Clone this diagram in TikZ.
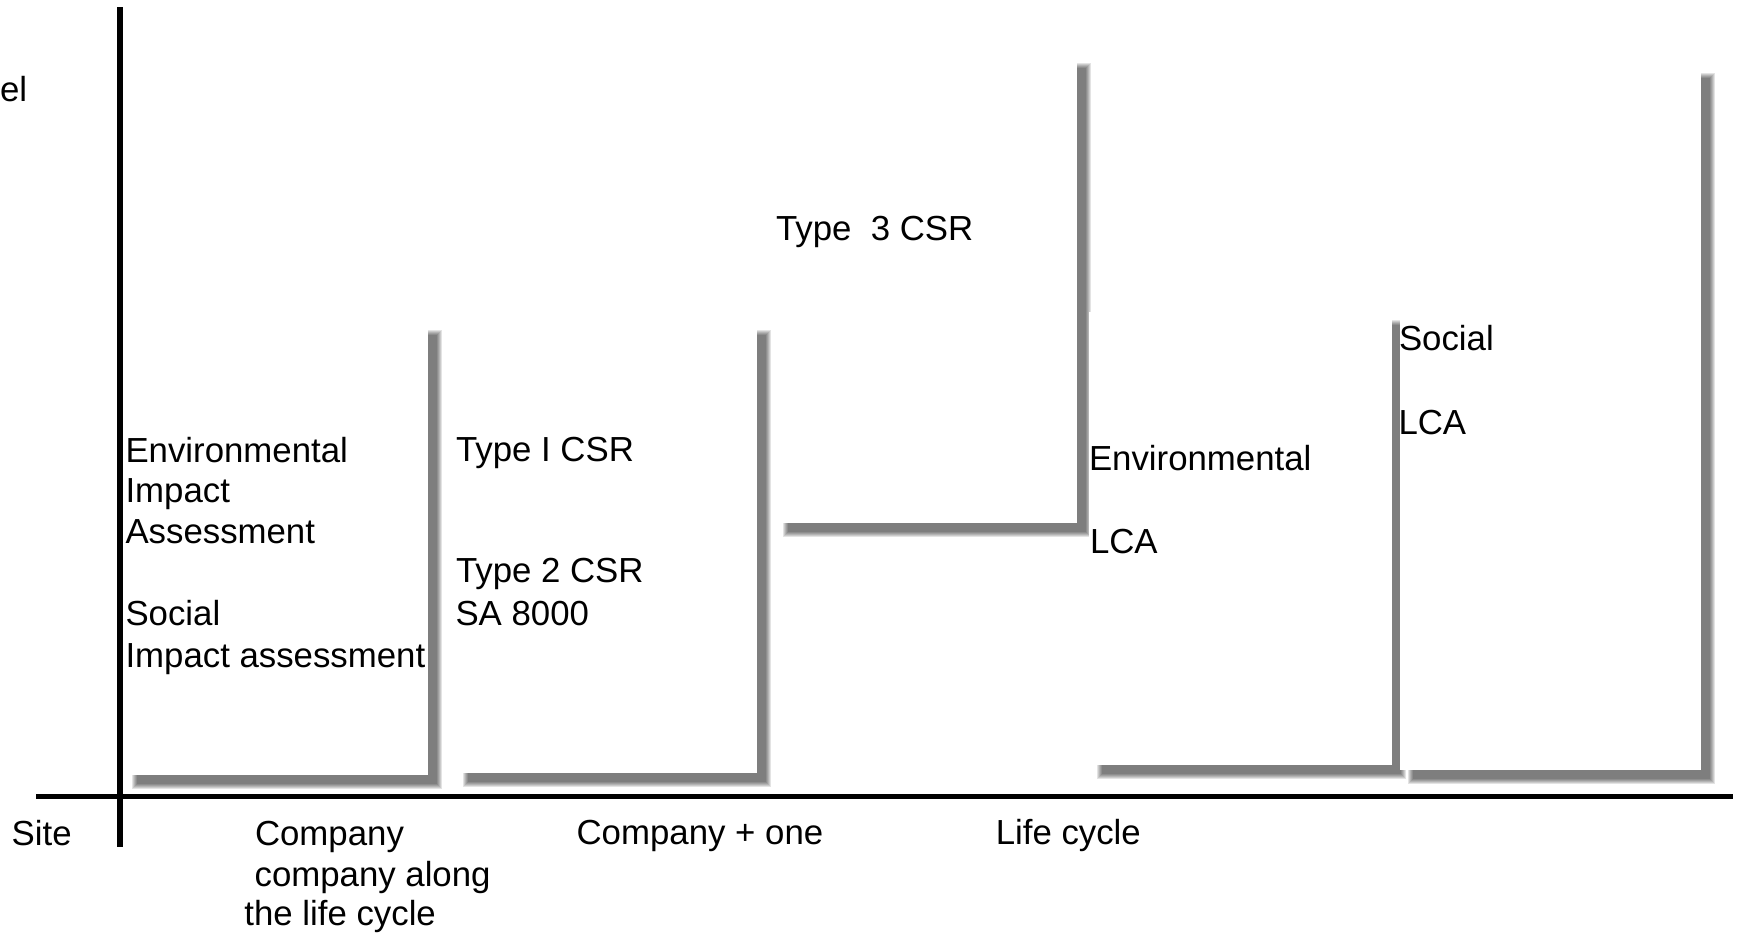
\documentclass[tikz,border=0pt]{standalone}
\usepackage{fontspec}
\setmainfont{Liberation Sans}
\begin{document}
\begin{tikzpicture}[x=0.5pt,y=-0.5pt]
\tikzset{
  shadowlayer/.style={fill=black, fill opacity=0.11},
  panelfill/.style={fill=white},
  axisline/.style={line width=2.65pt, line cap=butt, draw=black},
  lbl/.style={anchor=base west, inner sep=0pt, outer sep=0pt,
              font=\fontsize{17.4}{20.6}\selectfont},
}
% white panel with a soft drop shadow (corners in px: x1 y1 x2 y2)
\newcommand\shadowpanel[4]{%
  \foreach \e in {0,...,5}{%
    \fill[shadowlayer] (#1+8+\e,#2+8+\e) rectangle (#3+14-\e,#4+14-\e);
  }%
  \fill[panelfill] (#1,#2) rectangle (#3,#4);
}
\useasboundingbox (0,0) rectangle (1741,934);

% panels, left to right
\shadowpanel{124}{322}{428}{775}
\shadowpanel{455}{322}{757}{773}
\shadowpanel{775}{55}{1077}{523}
\shadowpanel{1089}{312}{1392}{765}
\shadowpanel{1400}{65}{1701}{770}

% axes
\coordinate (ytop) at (120,7);
\coordinate (ybot) at (120,847);
\coordinate (xleft) at (36,796.5);
\coordinate (xright) at (1733,796.5);
\draw[axisline] (ytop) -- (ybot);
\draw[axisline] (xleft) -- (xright);

% axis title
\node[lbl] (ytitle) at (0,101.7) {el};

% site level
\node[lbl] (eia1) at (125.5,462) {Environmental};
\node[lbl] (eia2) at (125.5,502) {Impact};
\node[lbl] (eia3) at (125.5,543) {Assessment};
\node[lbl] (sia1) at (125.5,625) {Social};
\node[lbl] (sia2) at (125.5,667) {Impact assessment};

% company level
\node[lbl] (csr1) at (456,461) {Type I CSR};
\node[lbl] (csr2) at (456,582) {Type 2 CSR};
\node[lbl] (sa) at (455.5,625) {SA 8000};

% company + one
\node[lbl] (csr3) at (776,240) {Type\ \ 3 CSR};

% life cycle
\node[lbl] (elca1) at (1089,470) {Environmental};
\node[lbl] (elca2) at (1090,553) {LCA};
\node[lbl] (slca1) at (1399,350.7) {Social};
\node[lbl] (slca2) at (1398.5,434) {LCA};

% horizontal axis labels
\node[lbl] (site) at (11.7,845) {Site};
\node[lbl] (comp1) at (255,845.5) {Company};
\node[lbl] (comp2) at (254.6,886) {company along};
\node[lbl] (comp3) at (244.4,925) {the life cycle};
\node[lbl] (compone) at (576.6,844) {Company + one};
\node[lbl] (lifecyc) at (995.8,844) {Life cycle};
\end{tikzpicture}
\end{document}
